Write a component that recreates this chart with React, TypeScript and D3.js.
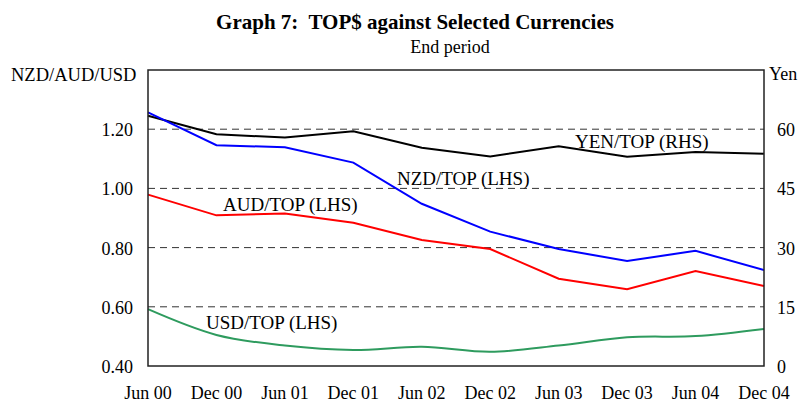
import { scaleLinear, scalePoint, line, curveLinear, curveCatmullRom } from "d3";

const width = 801;
const height = 407;
const margin = { top: 70, right: 37, bottom: 41, left: 148 };
const innerW = width - margin.left - margin.right;
const innerH = height - margin.top - margin.bottom;

const periods = [
  "Jun 00", "Dec 00", "Jun 01", "Dec 01", "Jun 02",
  "Dec 02", "Jun 03", "Dec 03", "Jun 04", "Dec 04",
];
const nzdTop = [1.257, 1.146, 1.139, 1.087, 0.948, 0.854, 0.795, 0.755, 0.789, 0.724];
const audTop = [0.979, 0.909, 0.915, 0.884, 0.826, 0.795, 0.695, 0.659, 0.721, 0.67];
const usdTop = [0.592, 0.505, 0.469, 0.454, 0.465, 0.448, 0.469, 0.497, 0.501, 0.525];
const yenTop = [63.4, 58.7, 57.9, 59.5, 55.3, 53.1, 55.7, 53.0, 54.2, 53.8];

const leftTicks = [0.4, 0.6, 0.8, 1.0, 1.2];
const rightTicks = [0, 15, 30, 45, 60];

const font = '"Liberation Serif", "Times New Roman", serif';

const App = () => {
  const x = scalePoint<string>().domain(periods).range([0, innerW]);
  const yL = scaleLinear().domain([0.4, 1.4]).range([innerH, 0]);
  const yR = scaleLinear().domain([0, 75]).range([innerH, 0]);

  const leftLine = line<number>()
    .x((_, i) => x(periods[i])!)
    .y((d) => yL(d))
    .curve(curveLinear);
  const rightLine = line<number>()
    .x((_, i) => x(periods[i])!)
    .y((d) => yR(d))
    .curve(curveLinear);
  // the USD series is drawn smoothed in the original
  const smoothLine = line<number>()
    .x((_, i) => x(periods[i])!)
    .y((d) => yL(d))
    .curve(curveCatmullRom.alpha(0.5));

  return (
    <svg
      width={width}
      height={height}
      style={{ position: "absolute", left: 0, top: 0, background: "#fff" }}
      fontFamily={font}
    >
      <text
        x={415}
        y={29}
        textAnchor="middle"
        fontSize={21}
        fontWeight="bold"
        style={{ whiteSpace: "pre" }}
      >
        {"Graph 7:  TOP$ against Selected Currencies"}
      </text>
      <text x={450} y={53} textAnchor="middle" fontSize={18}>
        End period
      </text>
      <text x={11} y={81} fontSize={18.5}>
        NZD/AUD/USD
      </text>
      <text x={769} y={80} fontSize={18}>
        Yen
      </text>

      <g transform={`translate(${margin.left},${margin.top})`}>
        {leftTicks.slice(1).map((t) => (
          <line
            key={t}
            x1={0}
            x2={innerW}
            y1={yL(t)}
            y2={yL(t)}
            stroke="#333"
            strokeWidth={1}
            strokeDasharray="7 5"
          />
        ))}
        {leftTicks.map((t) => (
          <text
            key={t}
            x={-15}
            y={yL(t) + 7}
            textAnchor="end"
            fontSize={18}
          >
            {t.toFixed(2)}
          </text>
        ))}
        {rightTicks.map((t) => (
          <text key={t} x={innerW + 13} y={yR(t) + 7} fontSize={18}>
            {t}
          </text>
        ))}
        {periods.map((p) => (
          <text
            key={p}
            x={x(p)!}
            y={innerH + 33}
            textAnchor="middle"
            fontSize={18}
          >
            {p}
          </text>
        ))}

        <path d={rightLine(yenTop)!} fill="none" stroke="#000" strokeWidth={2} />
        <path d={leftLine(nzdTop)!} fill="none" stroke="#0000ff" strokeWidth={2} />
        <path d={leftLine(audTop)!} fill="none" stroke="#ff0000" strokeWidth={2} />
        <path d={smoothLine(usdTop)!} fill="none" stroke="#2e9b5e" strokeWidth={2} />

        <rect
          x={0}
          y={0}
          width={innerW}
          height={innerH}
          fill="none"
          stroke="#222"
          strokeWidth={1.5}
        />

        <text x={575 - margin.left} y={148 - margin.top} fontSize={19}>
          YEN/TOP (RHS)
        </text>
        <text x={397 - margin.left} y={185 - margin.top} fontSize={19}>
          NZD/TOP (LHS)
        </text>
        <text x={223 - margin.left} y={211 - margin.top} fontSize={19}>
          AUD/TOP (LHS)
        </text>
        <text x={206 - margin.left} y={329 - margin.top} fontSize={19}>
          USD/TOP (LHS)
        </text>
      </g>
    </svg>
  );
};

export default App;
